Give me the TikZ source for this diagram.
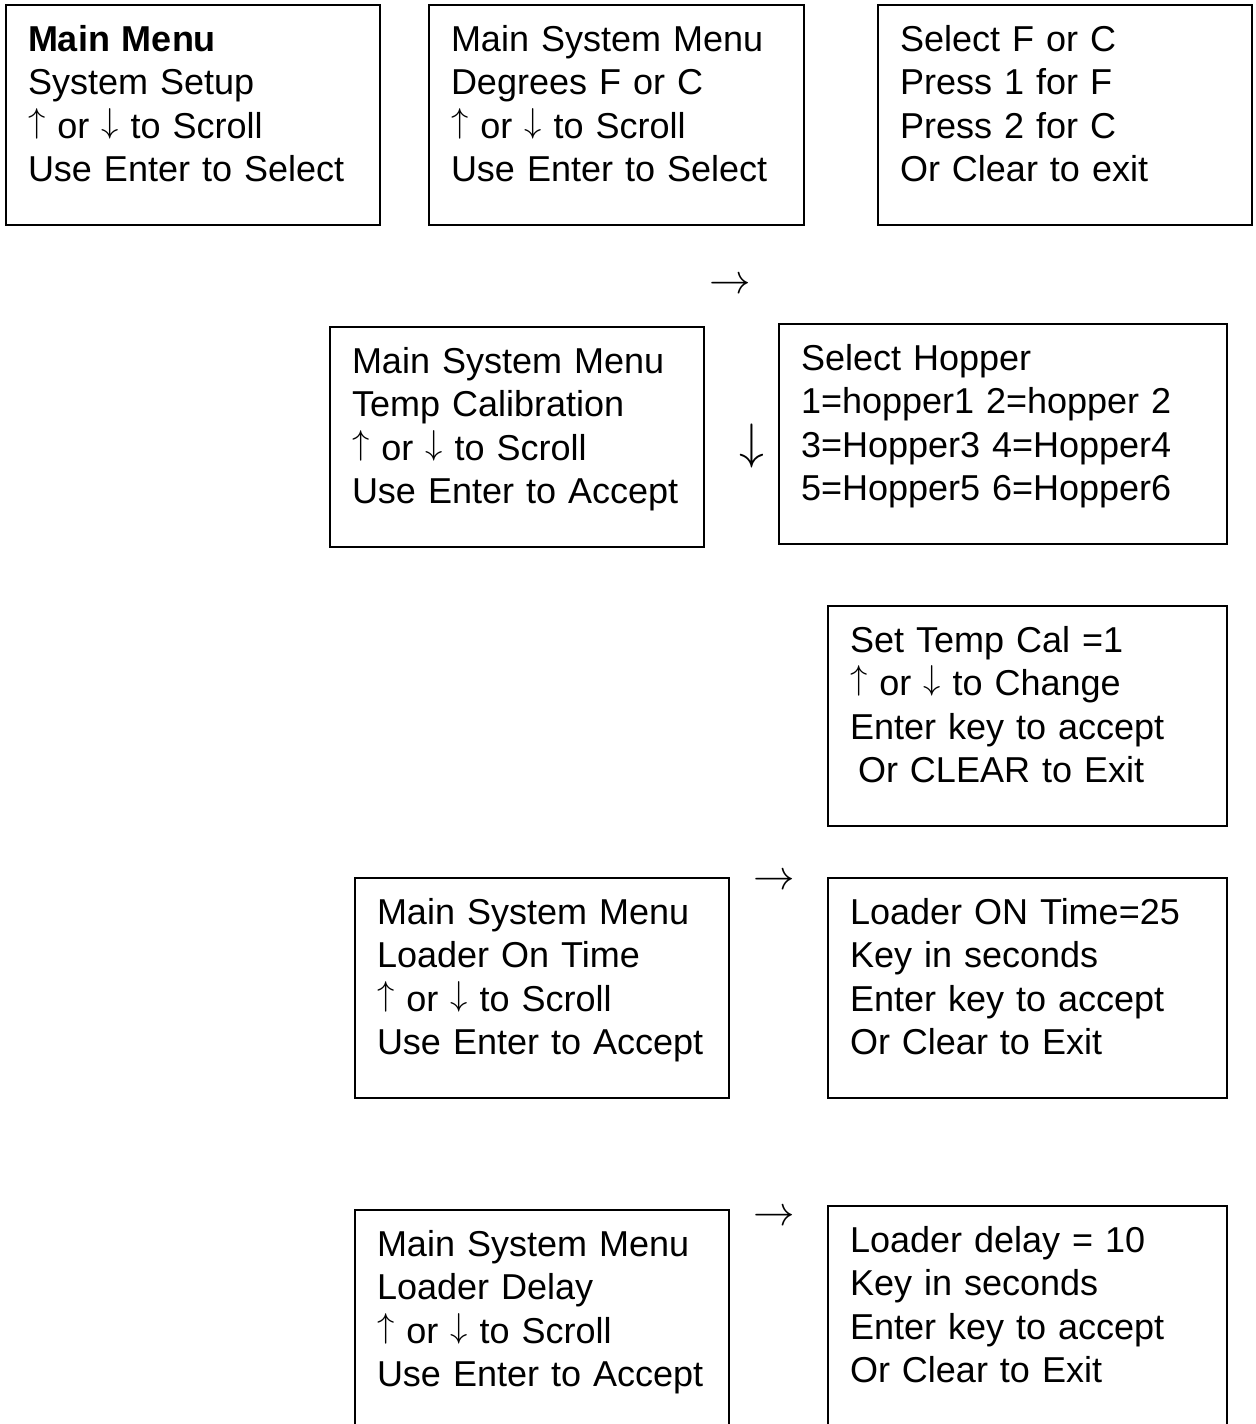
\documentclass[tikz,border=0pt]{standalone}
\usepackage{fontspec}
\setmainfont{Liberation Sans}
\usepackage{amssymb}
\hyphenpenalty=10000
\newcommand{\upkey}{\raisebox{3pt}{\fontsize{16}{16}\selectfont$\uparrow$}}
\newcommand{\downkey}{\raisebox{3pt}{\fontsize{16}{16}\selectfont$\downarrow$}}
\tikzset{
  screen/.style={draw, line width=1pt, anchor=north west, align=left,
    inner xsep=11pt, inner ysep=0pt, text width=#1,
    text height=23.25pt, text depth=86.75pt,
    font=\fontsize{18}{21.7}\selectfont},
  lastscreen/.style={screen=#1, text depth=110pt},
  keyarrow/.style={inner sep=0pt, font=\fontsize{21}{21}\selectfont}
}
\begin{document}
\begin{tikzpicture}[x=0.5pt, y=-0.5pt]
\clip (0,0) rectangle (1256,1424);
\node[screen=165pt] (mainmenu) at (5,4)
  {\textbf{Main Menu}\\ System Setup\\ \upkey{} or \downkey{} to Scroll\\ Use Enter to Select};
\node[screen=165.5pt] (degmenu) at (428,4)
  {Main System Menu\\ Degrees F or C\\ \upkey{} or \downkey{} to Scroll\\ Use Enter to Select};
\node[screen=165pt] (fcsel) at (877,4)
  {Select F or C\\ Press 1 for F\\ Press 2 for C\\ Or Clear to exit};
\node[keyarrow] (arrfc) at (730,286) {$\rightarrow$};
\node[screen=165pt] (calmenu) at (329,326)
  {Main System Menu\\ Temp Calibration\\ \upkey{} or \downkey{} to Scroll\\ Use Enter to Accept};
\node[keyarrow, font=\fontsize{29}{29}\selectfont] (arrhop) at (752,446) {$\downarrow$};
\node[screen=202pt] (hopsel) at (778,323)
  {Select Hopper\\ 1=hopper1 2=hopper 2\\ 3=Hopper3 4=Hopper4\\ 5=Hopper5 6=Hopper6};
\node[screen=177.5pt] (calset) at (827,605)
  {Set Temp Cal =1\\ \upkey{} or \downkey{} to Change\\ Enter key to accept\\ \hspace*{4pt}Or CLEAR to Exit};
\node[screen=165pt] (onmenu) at (354,877)
  {Main System Menu\\ Loader On Time\\ \upkey{} or \downkey{} to Scroll\\ Use Enter to Accept};
\node[keyarrow] (arron) at (774,882) {$\rightarrow$};
\node[screen=177.5pt] (onset) at (827,877)
  {Loader ON Time=25\\ Key in seconds\\ Enter key to accept\\ Or Clear to Exit};
\node[lastscreen=165pt] (delmenu) at (354,1209)
  {Main System Menu\\ Loader Delay\\ \upkey{} or \downkey{} to Scroll\\ Use Enter to Accept};
\node[keyarrow] (arrdel) at (774,1218) {$\rightarrow$};
\node[lastscreen=177.5pt] (delset) at (827,1205)
  {Loader delay = 10\\ Key in seconds\\ Enter key to accept\\ Or Clear to Exit};
\end{tikzpicture}
\end{document}
